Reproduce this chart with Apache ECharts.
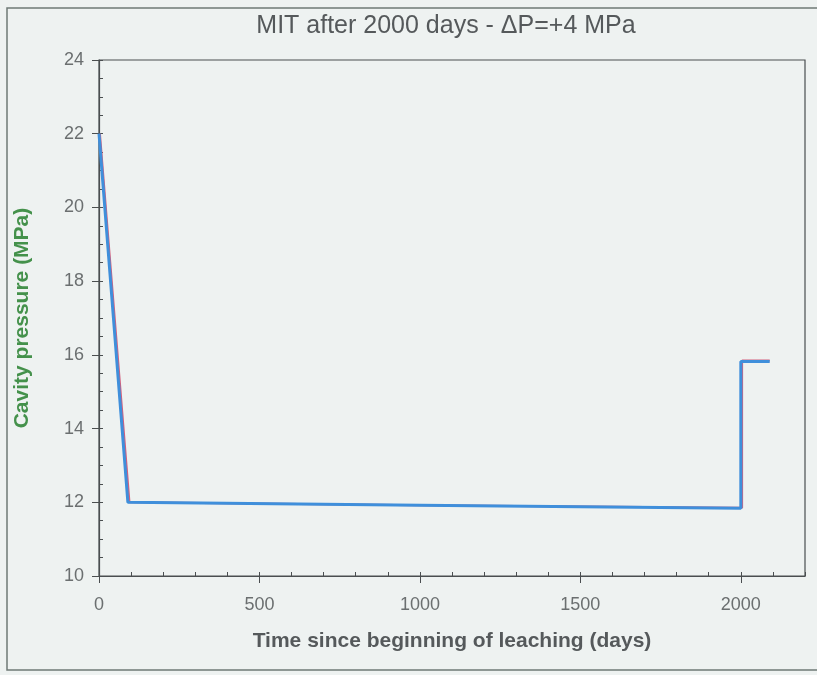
<!DOCTYPE html>
<html>
<head>
<meta charset="utf-8">
<title>MIT after 2000 days</title>
<script src="https://cdn.jsdelivr.net/npm/echarts@6/dist/echarts.min.js"></script>
<style>
  html, body { margin: 0; padding: 0; background: #eef2f1; }
  #chart { width: 817px; height: 675px; }
</style>
</head>
<body>
<div id="chart"></div>
<script>
// Cavity pressure history: leaching drawdown, long hold, then the +4 MPa test step
const titleText = 'MIT after 2000 days - \u0394P=+4 MPa';
const xAxisTitle = 'Time since beginning of leaching (days)';
const yAxisTitle = 'Cavity pressure (MPa)';

// computed pressure (red trace, underneath)
const redDays = [3, 95, 1000, 2004, 2004, 2090];
const redPressure = [22, 12, 11.92, 11.85, 15.85, 15.85];

// measured pressure (blue trace, on top)
const blueDays = [0, 90, 1000, 2000, 2000, 2090];
const bluePressure = [22, 12, 11.92, 11.84, 15.82, 15.82];

const xMin = 0, xMax = 2200, xStep = 500, xMinorStep = 100;
const yMin = 10, yMax = 24, yStep = 2, yMinorStep = 0.5;

const pairs = (xs, ys) => xs.map((x, i) => [x, ys[i]]);

const chart = echarts.init(document.getElementById('chart'), null, { renderer: 'canvas' });

const fontFamily = 'Liberation Sans, Arial, sans-serif';
const labelFont = { fontFamily: fontFamily, fontSize: 18, color: '#6b6f70', formatter: v => String(v) };

chart.setOption({
  backgroundColor: '#eef2f1',
  animation: false,
  title: {
    text: titleText,
    left: 441,
    top: 9,
    textAlign: 'center',
    textStyle: { fontFamily: fontFamily, fontSize: 25, fontWeight: 'normal', color: '#55595b' }
  },
  graphic: [
    {
      type: 'rect',
      shape: { x: 7, y: 8, width: 830, height: 662 },
      style: { fill: null, stroke: '#6f7a76', lineWidth: 1.5 },
      silent: true
    }
  ],
  grid: {
    left: 99, top: 60, width: 706, height: 516,
    show: true, borderColor: '#4a4e50', borderWidth: 1.2, backgroundColor: 'transparent'
  },
  xAxis: [
    {
      type: 'value', min: xMin, max: xMax, interval: xStep,
      name: xAxisTitle, nameLocation: 'middle', nameGap: 55,
      nameTextStyle: { fontFamily: fontFamily, fontSize: 21, fontWeight: 'bold', color: '#55595b' },
      axisLine: { show: true, lineStyle: { color: '#4a4e50', width: 1.2 } },
      axisTick: { show: true, inside: false, length: 7, lineStyle: { color: '#4a4e50' } },
      axisLabel: Object.assign({ margin: 20, showMaxLabel: false }, labelFont),
      splitLine: { show: false }
    },
    {
      type: 'value', min: xMin, max: xMax, interval: xMinorStep, position: 'bottom',
      axisLine: { show: false },
      axisTick: { show: true, inside: true, length: 4, lineStyle: { color: '#4a4e50' } },
      axisLabel: { show: false },
      splitLine: { show: false }
    }
  ],
  yAxis: [
    {
      type: 'value', min: yMin, max: yMax, interval: yStep,
      name: yAxisTitle, nameLocation: 'middle', nameGap: 66,
      nameTextStyle: { fontFamily: fontFamily, fontSize: 21, fontWeight: 'bold', color: '#44914b' },
      axisLine: { show: true, lineStyle: { color: '#4a4e50', width: 1.2 } },
      axisTick: { show: true, inside: false, length: 7, lineStyle: { color: '#4a4e50' } },
      axisLabel: Object.assign({ margin: 15 }, labelFont),
      splitLine: { show: false }
    },
    {
      type: 'value', min: yMin, max: yMax, interval: yMinorStep, position: 'left',
      axisLine: { show: false },
      axisTick: { show: true, inside: true, length: 4, lineStyle: { color: '#4a4e50' } },
      axisLabel: { show: false },
      splitLine: { show: false }
    }
  ],
  series: [
    {
      type: 'line', xAxisIndex: 0, yAxisIndex: 0,
      data: pairs(redDays, redPressure),
      showSymbol: false, symbol: 'none',
      lineStyle: { color: '#d2607e', width: 2 },
      z: 2
    },
    {
      type: 'line', xAxisIndex: 0, yAxisIndex: 0,
      data: pairs(blueDays, bluePressure),
      showSymbol: false, symbol: 'none',
      lineStyle: { color: '#3f8fdb', width: 3 },
      z: 3
    }
  ]
});
</script>
</body>
</html>
